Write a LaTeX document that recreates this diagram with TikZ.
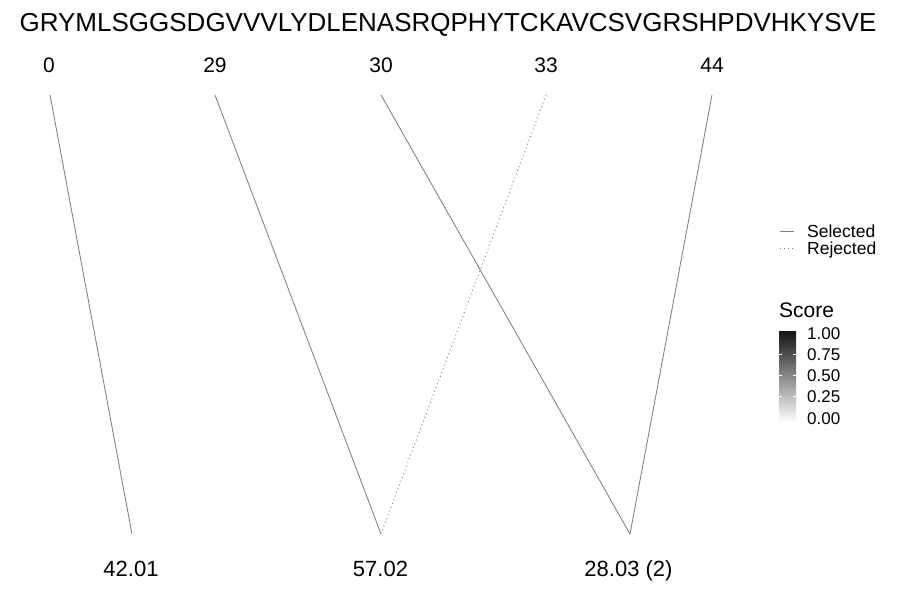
\documentclass[tikz,border=0pt]{standalone}
\usepackage{fontspec}
\setmainfont{Liberation Sans}
\usetikzlibrary{positioning}

\begin{document}
\begin{tikzpicture}[
  x=1pt, y=-1pt,
  seqtext/.style={anchor=base, inner sep=0pt, font=\fontsize{26}{30}\selectfont},
  poslabel/.style={anchor=base, inner sep=0pt, font=\fontsize{21}{25}\selectfont},
  masslabel/.style={anchor=base, inner sep=0pt, font=\fontsize{22}{26}\selectfont},
  keytext/.style={anchor=base west, inner sep=0pt, font=\fontsize{17.5}{20}\selectfont},
  match/.style={draw=black!50, line width=0.85pt},
  nomatch/.style={draw=black!50, line width=0.85pt, dash pattern=on 1pt off 3pt}
]
\useasboundingbox[fill=white] (0,0) rectangle (900,600);

% Sequence
\node[seqtext] (seq) at (448,31) {GRYMLSGGSDGVVVLYDLENASRQPHYTCKAVCSVGRSHPDVHKYSVE};

% Positions
\node[poslabel] (p0) at (49,72) {0};
\node[poslabel] (p29) at (215,72) {29};
\node[poslabel] (p30) at (381,72) {30};
\node[poslabel] (p33) at (546,72) {33};
\node[poslabel] (p44) at (712,72) {44};
\coordinate (t0) at (50,95);
\coordinate (t29) at (215,95);
\coordinate (t30) at (381,95);
\coordinate (t33) at (546,95);
\coordinate (t44) at (712,95);

% Masses
\node[masslabel] (m1) at (131,576) {42.01};
\node[masslabel] (m2) at (380.5,576) {57.02};
\node[masslabel] (m3) at (628.5,576) {28.03 (2)};
\coordinate (b1) at (132,534);
\coordinate (b2) at (381,534);
\coordinate (b3) at (630,534);

% Links
\draw[match] (t0) -- (b1);
\draw[match] (t29) -- (b2);
\draw[match] (t30) -- (b3);
\draw[nomatch] (t33) -- (b2);
\draw[match] (t44) -- (b3);

% Legend
\node[keytext] (sel) at (807,237) {Selected};
\node[keytext] (rej) at (807,254) {Rejected};
\coordinate (selkey) at (780,231);
\coordinate (rejkey) at (780,248);
\draw[match] (selkey) -- ++(14,0);
\draw[nomatch] (rejkey) -- ++(14,0);

% Colour bar
\node[keytext, font=\fontsize{21}{25}\selectfont] (score) at (779,317.5) {Score};
\shade[top color=black!92, bottom color=black!2] (779,331) rectangle (796,420);
\foreach \v/\y in {0.75/354.25, 0.50/375.5, 0.25/396.75} {
  \draw[white, line width=0.6pt] (779,\y) -- ++(3,0);
  \draw[white, line width=0.6pt] (796,\y) -- ++(-3,0);
}
\foreach \v/\y in {1.00/339, 0.75/360.25, 0.50/381.5, 0.25/402.75, 0.00/424} {
  \node[keytext, font=\fontsize{17}{20}\selectfont] at (807,\y) {\v};
}
\end{tikzpicture}
\end{document}
